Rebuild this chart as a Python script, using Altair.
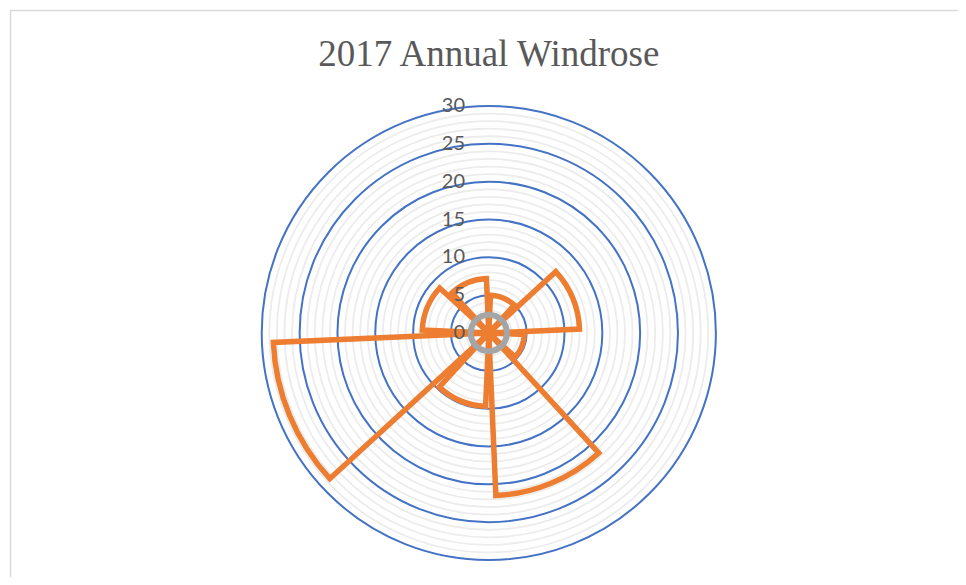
import altair as alt
import pandas as pd

# ---- data ----
directions = ["NNE", "ENE", "ESE", "SSE", "SSW", "WSW", "WNW", "NNW"]
start_deg = [2.5, 47.5, 92.5, 137.5, 182.5, 227.5, 272.5, 317.5]
end_deg = [42.5, 87.5, 132.5, 177.5, 222.5, 267.5, 312.5, 357.5]
frequency = [5.0, 12.0, 4.7, 21.5, 9.7, 28.5, 8.8, 7.2]

major_ticks = [0, 5, 10, 15, 20, 25, 30]
major_rings = [5, 10, 15, 20, 25, 30]
minor_rings = [1, 2, 3, 4, 6, 7, 8, 9, 11, 12, 13, 14, 16, 17, 18, 19,
               21, 22, 23, 24, 26, 27, 28, 29]
calm = [2.4]
title_text = ["2017 Annual Windrose"]

# ---- layout ----
W, H = 950, 569
CX, CY, R = 480.8, 325, 227

sectors = pd.DataFrame({"dir": directions, "t0": start_deg, "t1": end_deg, "v": frequency})
majors = pd.DataFrame({"r": major_rings, "t0": 0, "t1": 360})
minors = pd.DataFrame({"r": minor_rings, "t0": 0, "t1": 360})
calm_df = pd.DataFrame({"r": calm, "t0": 0, "t1": 360})
ticks_df = pd.DataFrame({"tick": major_ticks, "label": [str(t) for t in major_ticks]})
title_df = pd.DataFrame({"title": title_text})

rscale = alt.Scale(type="linear", domain=[0, 30], range=[0, R], zero=True, nice=False)
tscale = alt.Scale(type="linear", domain=[0, 360], range=[0, 6.283185307179586], nice=False)


def rings(df, color, width):
    return alt.Chart(df).mark_arc(filled=False, stroke=color, strokeWidth=width).encode(
        theta=alt.Theta("t0:Q", scale=tscale, stack=False),
        theta2="t1:Q",
        radius=alt.Radius("r:Q", scale=rscale),
        x=alt.value(CX),
        y=alt.value(CY),
    )


minor_layer = rings(minors, "#ececec", 1.8)
major_layer = rings(majors, "#4472C4", 2)

sector_layer = alt.Chart(sectors).mark_arc(
    filled=False, stroke="#ED7D31", strokeWidth=5.5, strokeJoin="miter"
).encode(
    theta=alt.Theta("t0:Q", scale=tscale, stack=False),
    theta2="t1:Q",
    radius=alt.Radius("v:Q", scale=rscale),
    x=alt.value(CX),
    y=alt.value(CY),
)

calm_layer = rings(calm_df, "#A5A5A5", 6)

labels = alt.Chart(ticks_df).mark_text(
    align="right", baseline="middle", font="Lato", fontSize=20, color="#595959"
).encode(
    y=alt.Y("tick:Q", scale=alt.Scale(domain=[0, 30], range=[CY, CY - R], nice=False, zero=True), axis=None),
    x=alt.value(457),
    text="label:N",
)

title = alt.Chart(title_df).mark_text(
    align="center", baseline="alphabetic", font="Liberation Serif", fontSize=37, color="#595959"
).encode(
    x=alt.value(CX),
    y=alt.value(58),
    text="title:N",
)

border_left = alt.Chart(title_df).mark_rule(color="#d9d9d9", strokeWidth=1.5).encode(
    x=alt.value(2.5), y=alt.value(2), y2=alt.value(H)
)
border_top = alt.Chart(title_df).mark_rule(color="#d9d9d9", strokeWidth=1.5).encode(
    x=alt.value(2), x2=alt.value(W), y=alt.value(2.5)
)

chart = alt.layer(
    border_left, border_top, minor_layer, major_layer, sector_layer, calm_layer, labels, title
).properties(
    width=W, height=H, autosize=alt.AutoSizeParams(type="none"), padding=0
).configure_view(stroke=None)

chart.save("out.html", embed_options={"renderer": "svg", "actions": False})
